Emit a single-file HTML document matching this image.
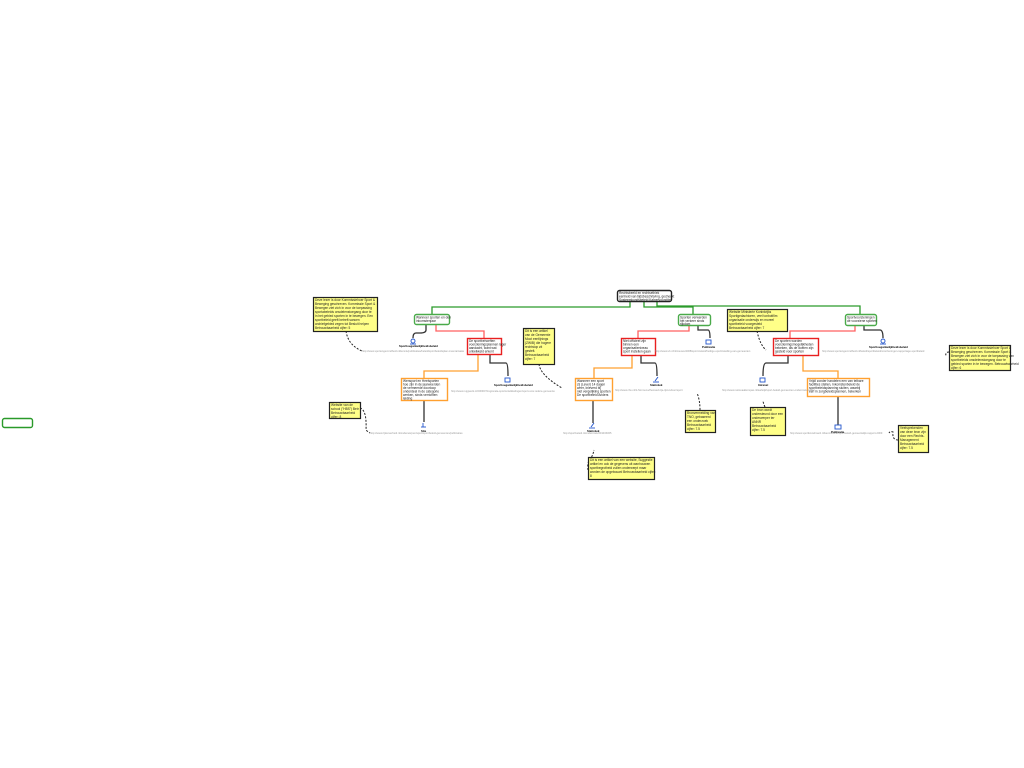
<!DOCTYPE html>
<html><head><meta charset="utf-8"><style>
html,body{margin:0;padding:0;background:#fff;width:1024px;height:768px;overflow:hidden}
svg{display:block}
text{font-family:"Liberation Sans",sans-serif;font-size:3.2px;fill:#222}
.l{font-size:2.6px;fill:#999}
.b{font-weight:bold;font-size:2.8px;fill:#000}
</style></head><body>
<svg width="1024" height="768" viewBox="0 0 1024 768" xmlns="http://www.w3.org/2000/svg">
<g fill="none" stroke-width="1.3">
<path d="M630 302 V307 H432 V314" stroke="#2a9a2a"/>
<path d="M644 302 V307 H693 V314" stroke="#2a9a2a"/>
<path d="M657 302 V306 H860 V314" stroke="#2a9a2a"/>
<path d="M436 325 V331 H484 V338" stroke="#ff6060"/>
<path d="M689 326 V331 H638 V338" stroke="#ff6060"/>
<path d="M855 326 V331 H790 V338" stroke="#ff6060"/>
<path d="M478 354 V371 H424 V378" stroke="#ffa030"/>
<path d="M632 355 V368 H594 V378" stroke="#ffa030"/>
<path d="M803 356 V371 H838 V378" stroke="#ffa030"/>
<g stroke="#333" stroke-width="1.3">
<path d="M426 325 V330 Q426 333 420 333 H416 Q413 333 413 338"/>
<path d="M698 326 V330 H708 Q710 330 710 338"/>
<path d="M864 326 V330 H880 Q883 330 883 338"/>
<path d="M490 354 V363 H506 Q508 363 508 376"/>
<path d="M641 355 V363 H655 Q657 363 657 376"/>
<path d="M788 356 V363 H766 Q763 363 763 376"/>
<path d="M424 400 V422"/>
<path d="M593 400 V423"/>
<path d="M838 396 V425"/>
</g>
<g stroke="#222" stroke-dasharray="2,1.5" stroke-width="1">
<path d="M346 331 Q348 345 362 351"/>
<path d="M539 364 Q540 375 562 388"/>
<path d="M757 331 Q760 345 766 350"/>
<path d="M949 352 Q945 352 946 356"/>
<path d="M360 408 Q367 410 366 430 Q368 432 370 433"/>
<path d="M700 410 Q700 400 697 393"/>
<path d="M765 407 Q762 400 764 402"/>
<path d="M898 440 Q892 440 893 432 Q890 431 889 433"/>
<path d="M588 470 Q587 462 590 460 Q593 455 594 450"/>
</g>
</g>
<g stroke-width="1.4">
<rect x="617.5" y="290.5" width="54" height="11" rx="2" fill="#fff" stroke="#222"/>
<rect x="414.5" y="314.5" width="35" height="10" rx="2" fill="#fff" stroke="#4aaa4a"/>
<rect x="678.5" y="314.5" width="32" height="11" rx="2" fill="#fff" stroke="#4aaa4a"/>
<rect x="845.5" y="314.5" width="31" height="11" rx="2" fill="#fff" stroke="#4aaa4a"/>
<rect x="467.5" y="338.5" width="34" height="16" fill="#fff" stroke="#e82020"/>
<rect x="621.5" y="338.5" width="34" height="17" fill="#fff" stroke="#e82020"/>
<rect x="773.5" y="338.5" width="45" height="17" fill="#fff" stroke="#e82020"/>
<rect x="401.5" y="378.5" width="46" height="22" fill="#fff" stroke="#ffa030"/>
<rect x="575.5" y="378.5" width="37" height="22" fill="#fff" stroke="#ffa030"/>
<rect x="807.5" y="378.5" width="62" height="18" fill="#fff" stroke="#ffa030"/>
<rect x="2.5" y="418.5" width="30" height="9" rx="2" fill="#fff" stroke="#2a9a2a"/>
</g>
<g fill="#ffff88" stroke="#222" stroke-width="1.2">
<rect x="313.5" y="297.5" width="64" height="34"/>
<rect x="523.5" y="328.5" width="31" height="36"/>
<rect x="727.5" y="309.5" width="60" height="22"/>
<rect x="949.5" y="345.5" width="61" height="25"/>
<rect x="329.5" y="402.5" width="31" height="16"/>
<rect x="685.5" y="410.5" width="30" height="22"/>
<rect x="750.5" y="407.5" width="35" height="28"/>
<rect x="898.5" y="425.5" width="30" height="27"/>
<rect x="588.5" y="457.5" width="66" height="22"/>
</g>
<text x="619" y="294">Rechtsbeeld en rechtsethiek</text><text x="619" y="297.5">eenheid van tijdsbeschrijving, gecheckt</text><text x="619" y="301">Systeemkondsbeleid Kamervoorzitter</text>
<text x="416" y="318.5">Wanneer sporten en den</text><text x="416" y="322">inkomstenjaar</text>
<text x="680" y="318.5">Sporten verwerden</text><text x="680" y="322">het verkeer sinds</text><text x="680" y="325">rijkdom</text>
<text x="847" y="318.5">Sportvoorzieningen</text><text x="847" y="322">de voorziene sporten</text>
<text x="469" y="342">De sportbehoeften</text><text x="469" y="345.5">voorzieningsplannen lager</text><text x="469" y="349">aandacht, want wat</text><text x="469" y="352.5">ontwikkeld erkent</text>
<text x="623" y="342">Niet officieel zijn</text><text x="623" y="345.5">binnen een</text><text x="623" y="349">organisatieniveau</text><text x="623" y="352.5">sport instellen gaan</text>
<text x="775" y="342">De sporten worden</text><text x="775" y="345.5">voorzieningsmogelijkheden</text><text x="775" y="349">bekeken, als de doelen zijn</text><text x="775" y="352.5">gesteld voor sporten</text>
<text x="403" y="382">Wensport en Heelsporten</text><text x="403" y="385.5">hoe zijn in de jaarweerden</text><text x="403" y="389">de vermeerde doorloop</text><text x="403" y="392.5">onderdeel in de categorie</text><text x="403" y="396">werken, sinds verrichten</text><text x="403" y="399.5">leiding</text>
<text x="577" y="382">Wanneer een sport</text><text x="577" y="385.5">zij (Lever) 14 dagen</text><text x="577" y="389">weer, Inleverd bij</text><text x="577" y="392.5">niet vergelijking sporten</text><text x="577" y="396">De sportbeleid Anders</text>
<text x="809" y="382">Vrijdl zonder handelen een van telbare</text><text x="809" y="385.5">facilities stellen, Inkomstenbeleid de</text><text x="809" y="389">sportbeleidsplanning sluiten, waarbij</text><text x="809" y="392.5">een in zorgbeleidsplannen, bekerken</text>
<text x="315" y="301">Deze lezer is door Kommissiehoer Sport &amp;</text><text x="315" y="305">Beweging geschreven. Kommissie Sport &amp;</text><text x="315" y="309">Bewegen ziet zich in voor de toepassing</text><text x="315" y="313">sportabeleids onsdelenstoegang door te</text><text x="315" y="317">in het gebied sporten in te bewegen. Een</text><text x="315" y="321">sportbeleid geeft betreft sancen</text><text x="315" y="325">archiefgebied zegen tot Besluit helpen</text><text x="315" y="329">Betrouwbaarheid cijfer: 5</text>
<text x="525" y="332">Dit is een artikel</text><text x="525" y="336">van de Gemeente</text><text x="525" y="340">Moot eenfijnings</text><text x="525" y="344">(ZWIB) die hogere</text><text x="525" y="348">rechtstop zit</text><text x="525" y="352">gestelt.</text><text x="525" y="356">Betrouwbaarheid</text><text x="525" y="360">cijfer: 7</text>
<text x="729" y="313">Website Ministerie Koninkrijks</text><text x="729" y="317">Sportigedachtoren, veel tonbotfilm</text><text x="729" y="321">organisatie onderwijs en moreel</text><text x="729" y="325">sportbeleid voorgesteld</text><text x="729" y="329">Betrouwbaarheid cijfer: 7</text>
<text x="951" y="349">Deze lezer is door Kommissiehoer Sport &amp;</text><text x="951" y="353">Beweging geschreven. Kommissie Sport &amp;</text><text x="951" y="357">Bewegen ziet zich in voor de toepassing van</text><text x="951" y="361">sportbeleids onsdelenstoegang door te</text><text x="951" y="365">gebied sporten in te bewegen. Betrouwbaarheid</text><text x="951" y="369">cijfer: 6</text>
<text x="331" y="406">Website van de</text><text x="331" y="410">school ("HBS") Betr</text><text x="331" y="414">Betrouwbaarheid</text><text x="331" y="418">cijfer: 8</text>
<text x="687" y="414">Bronvermelding van</text><text x="687" y="418">TNO, gebaseerd</text><text x="687" y="422">een onderzoek</text><text x="687" y="426">Betrouwbaarheid</text><text x="687" y="430">cijfer: 7.5</text>
<text x="752" y="411">De bron wordt</text><text x="752" y="415">ondersteund door een</text><text x="752" y="419">onderwerper ter</text><text x="752" y="423">ANNR</text><text x="752" y="427">Betrouwbaarheid</text><text x="752" y="431">cijfer: 7.5</text>
<text x="900" y="429">Veelsprekenden</text><text x="900" y="433">van deze bron zijn</text><text x="900" y="437">door een Rechts-</text><text x="900" y="441">Management</text><text x="900" y="445">Betrouwbaarheid</text><text x="900" y="449">cijfer: 7.5</text>
<text x="590" y="461">Dit is een artikel van een website, Suggestie</text><text x="590" y="465">artikel en ook de gegevens uit wanhouwen</text><text x="590" y="469">sportbegrotheid zullen onderwerpt maar</text><text x="590" y="473">worden de opgebouwd Betrouwbaarheid cijfer:</text><text x="590" y="477">8</text>
<text class="l" x="362" y="352">http://www.sportengezondheid.nl/kennis/publicaties/beleid/sportbeleidsplan-inventarisatie</text>
<text class="l" x="451" y="392">http://www.nujgwerk.nl/2009/07/regionale-sportontwikkelingen/sport-voor-iedere-gemeente</text>
<text class="l" x="655" y="352">http://www.ub.nl/nl/nieuws/2008/sport-beleid/huidige-sportinstelling-van-gemeenten</text>
<text class="l" x="822" y="352">http://www.sportengezondheid.nl/beleid/sportbeleid/voorzieningen-rapportage-sportbeleid</text>
<text class="l" x="615" y="391">http://www.cbs.nl/nl-NL/menu/themas/vrije-tijd-cultuur/sport</text>
<text class="l" x="722" y="391">http://www.nationaalkompas.nl/leefstijl/sport-beleid-gemeenten-onderzoek-mulier</text>
<text class="l" x="370" y="434">http://www.rijksoverheid.nl/onderwerpen/sport/sportbeleid-gemeenten/publicaties</text>
<text class="l" x="563" y="434">http://sportbeleid.nl/onderzoek/2010/06/05</text>
<text class="l" x="790" y="434">http://www.sportknowhowxl.nl/kennisbank/sportbeleid-gemeentelijk-rapport-2009</text>
<g fill="none" stroke="#2255cc" stroke-width="0.9">
<circle cx="413" cy="341" r="2"/><path d="M410 344 h6"/>
<rect x="505" y="378" width="5" height="4"/>
<rect x="706" y="340" width="5" height="4"/>
<path d="M655 381 l3 -4"/><path d="M653 382 h6"/>
<rect x="760" y="378" width="5" height="4"/>
<circle cx="883" cy="341" r="2"/><path d="M880 344 h6"/>
<path d="M423 423 v4"/><path d="M421 427 h5"/>
<path d="M591 427 l3 -4"/><path d="M589 428 h6"/>
<rect x="835" y="425" width="6" height="4"/>
</g>
<text class="b" x="399" y="347">Sporttoegankelijkheidsbeleid</text>
<text class="b" x="494" y="386">Sporttoegankelijkheidsbeleid</text>
<text class="b" x="702" y="348">Publicatie</text>
<text class="b" x="650" y="386">Statistiek</text>
<text class="b" x="758" y="386">Intranet</text>
<text class="b" x="869" y="348">Sporttoegankelijkheidsbeleid</text>
<text class="b" x="421" y="432">Site</text>
<text class="b" x="587" y="432">Statistiek</text>
<text class="b" x="831" y="433">Publicatie</text>
</svg>
</body></html>
